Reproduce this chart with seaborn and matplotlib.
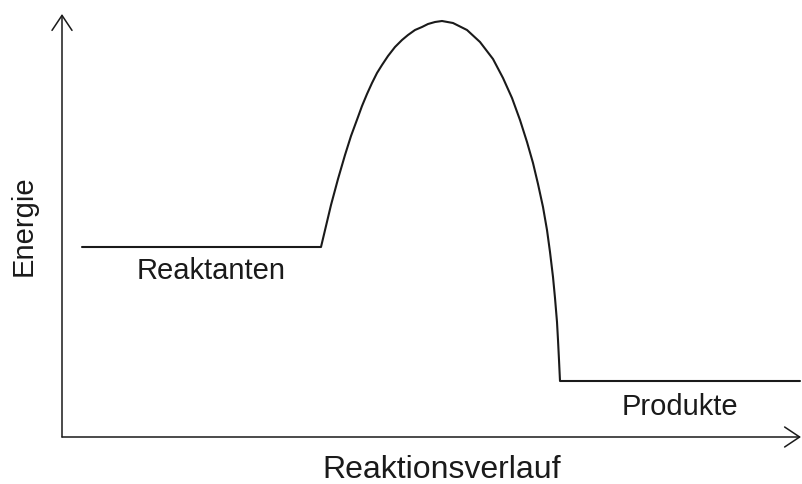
import matplotlib
matplotlib.use("Agg")
import matplotlib.pyplot as plt
import seaborn as sns
import pandas as pd

# Reaction progress (horizontal position) and energy values
progress = [82, 321, 326, 331, 338, 345, 351, 358, 362, 367, 372, 377, 382, 388, 395, 402,
            408, 415, 422, 428, 435, 442, 453, 467, 480, 493, 503, 512, 520, 527, 533, 538,
            543, 547, 550, 553, 555, 557, 558, 559, 560, 800]
energy_px = [247, 247, 226, 205, 179, 155, 136, 117, 106, 94, 83, 73, 65, 56, 47, 40,
             35, 30, 27, 24, 22, 21, 23, 30, 42, 59, 78, 98, 120, 142, 163, 184,
             207, 230, 252, 277, 298, 322, 340, 360, 381, 381]
energy = [484 - v for v in energy_px]

labels = ["Reaktanten", "Produkte"]
xlabel = "Reaktionsverlauf"
ylabel = "Energie"

sns.set_theme(style="white")
plt.rcParams["font.family"] = ["Liberation Sans", "DejaVu Sans"]

df = pd.DataFrame({"progress": progress, "energy": energy})

fig = plt.figure(figsize=(8.02, 4.84), dpi=100)
ax = fig.add_axes([0, 0, 1, 1])
sns.lineplot(data=df, x="progress", y="energy", sort=False, estimator=None,
             color="#1a1a1a", linewidth=1.5, ax=ax)
ax.set_xlim(0, 802)
ax.set_ylim(0, 484)
ax.axis("off")

arrow = dict(arrowstyle="->,head_length=0.54,head_width=0.36", mutation_scale=20,
             color="#1a1a1a", lw=1.1, shrinkA=0, shrinkB=0)
ax.annotate("", xy=(62, 470), xytext=(62, 47), arrowprops=arrow)
ax.annotate("", xy=(801, 47), xytext=(62, 47), arrowprops=arrow)

ax.text(211, 213, labels[0], ha="center", va="center", fontsize=21, color="#1a1a1a")
ax.text(680, 77, labels[1], ha="center", va="center", fontsize=21, color="#1a1a1a")
ax.text(442, 14, xlabel, ha="center", va="center", fontsize=23, color="#1a1a1a")
ax.text(24, 258, ylabel, ha="center", va="center", rotation=90, fontsize=21, color="#1a1a1a")

fig.savefig("out.png", dpi=100)
